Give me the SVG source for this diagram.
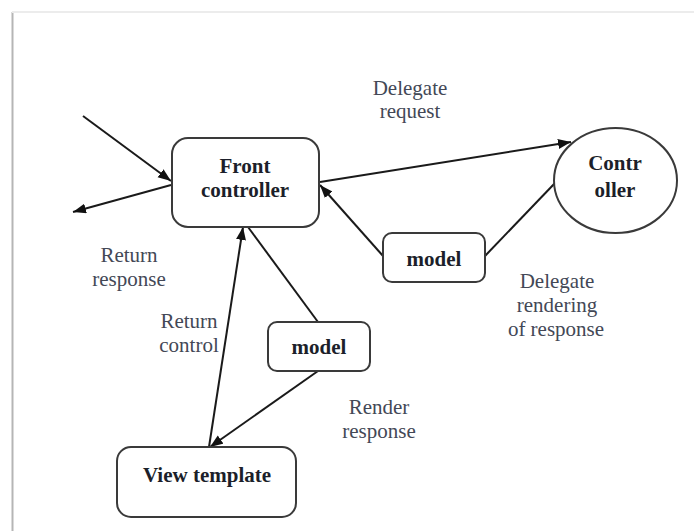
<svg xmlns="http://www.w3.org/2000/svg" width="694" height="531" viewBox="0 0 694 531">
  <defs>
    <marker id="arrow" markerUnits="userSpaceOnUse" markerWidth="15" markerHeight="11" refX="13" refY="5" orient="auto">
      <path d="M0,0 L13,5 L0,10 Z" fill="#111"/>
    </marker>
    <filter id="soft" x="-50%" y="-5%" width="200%" height="110%">
      <feGaussianBlur stdDeviation="1.2"/>
    </filter>
  </defs>
  <style>
    .node { fill: #fff; stroke: #3a3a3a; stroke-width: 2; }
    .title { font-family: "Liberation Serif", "Times New Roman", serif; font-weight: bold; font-size: 21px; fill: #1c1f2a; text-anchor: middle; }
    .label { font-family: "Liberation Serif", "Times New Roman", serif; font-size: 21px; fill: #434856; text-anchor: middle; }
    .edge { stroke: #1a1a1a; stroke-width: 2; fill: none; }
  </style>

  <rect width="694" height="531" fill="#fff"/>

  <!-- page frame -->
  <g id="frame">
    <line x1="10" y1="13" x2="10" y2="531" stroke="#d4d4d4" stroke-width="4" filter="url(#soft)"/>
    <line x1="12.5" y1="12" x2="12.5" y2="531" stroke="#b5b5b5" stroke-width="2"/>
    <line x1="12" y1="12" x2="694" y2="12" stroke="#ececec" stroke-width="2"/>
  </g>

  <!-- connectors -->
  <g id="connectors">
    <line class="edge" x1="83" y1="116" x2="171" y2="181" marker-end="url(#arrow)"/>
    <line class="edge" x1="171" y1="185" x2="73" y2="212" marker-end="url(#arrow)"/>
    <line class="edge" x1="320" y1="182" x2="571" y2="142" marker-end="url(#arrow)"/>
    <line class="edge" x1="383" y1="256" x2="320" y2="185" marker-end="url(#arrow)"/>
    <line class="edge" x1="485" y1="256" x2="555" y2="183"/>
    <line class="edge" x1="248" y1="227" x2="318" y2="322"/>
    <line class="edge" x1="209" y1="447" x2="243" y2="227" marker-end="url(#arrow)"/>
    <line class="edge" x1="318" y1="371" x2="210" y2="447" marker-end="url(#arrow)"/>
  </g>

  <!-- nodes -->
  <g id="front-controller">
    <rect class="node" x="172" y="138" width="147" height="89" rx="16"/>
    <text class="title" x="245" y="173">Front</text>
    <text class="title" x="245" y="197">controller</text>
  </g>

  <g id="controller">
    <ellipse class="node" cx="615.5" cy="180.5" rx="61.5" ry="52.5"/>
    <text class="title" x="615" y="170">Contr</text>
    <text class="title" x="615" y="197">oller</text>
  </g>

  <g id="model-delegate">
    <rect class="node" x="383" y="233" width="102" height="49" rx="9"/>
    <text class="title" x="434" y="266">model</text>
  </g>

  <g id="model-render">
    <rect class="node" x="268" y="322" width="102" height="49" rx="9"/>
    <text class="title" x="319" y="354">model</text>
  </g>

  <g id="view-template">
    <rect class="node" x="117" y="447" width="179" height="70" rx="14"/>
    <text class="title" x="207" y="482">View template</text>
  </g>

  <!-- edge labels -->
  <g id="labels">
    <text class="label" x="410" y="95">Delegate</text>
    <text class="label" x="410" y="118">request</text>
    <text class="label" x="129" y="262">Return</text>
    <text class="label" x="129" y="286">response</text>
    <text class="label" x="557" y="288">Delegate</text>
    <text class="label" x="557" y="312">rendering</text>
    <text class="label" x="556" y="336">of response</text>
    <text class="label" x="189" y="328">Return</text>
    <text class="label" x="189" y="352">control</text>
    <text class="label" x="379" y="414">Render</text>
    <text class="label" x="379" y="438">response</text>
  </g>
</svg>
